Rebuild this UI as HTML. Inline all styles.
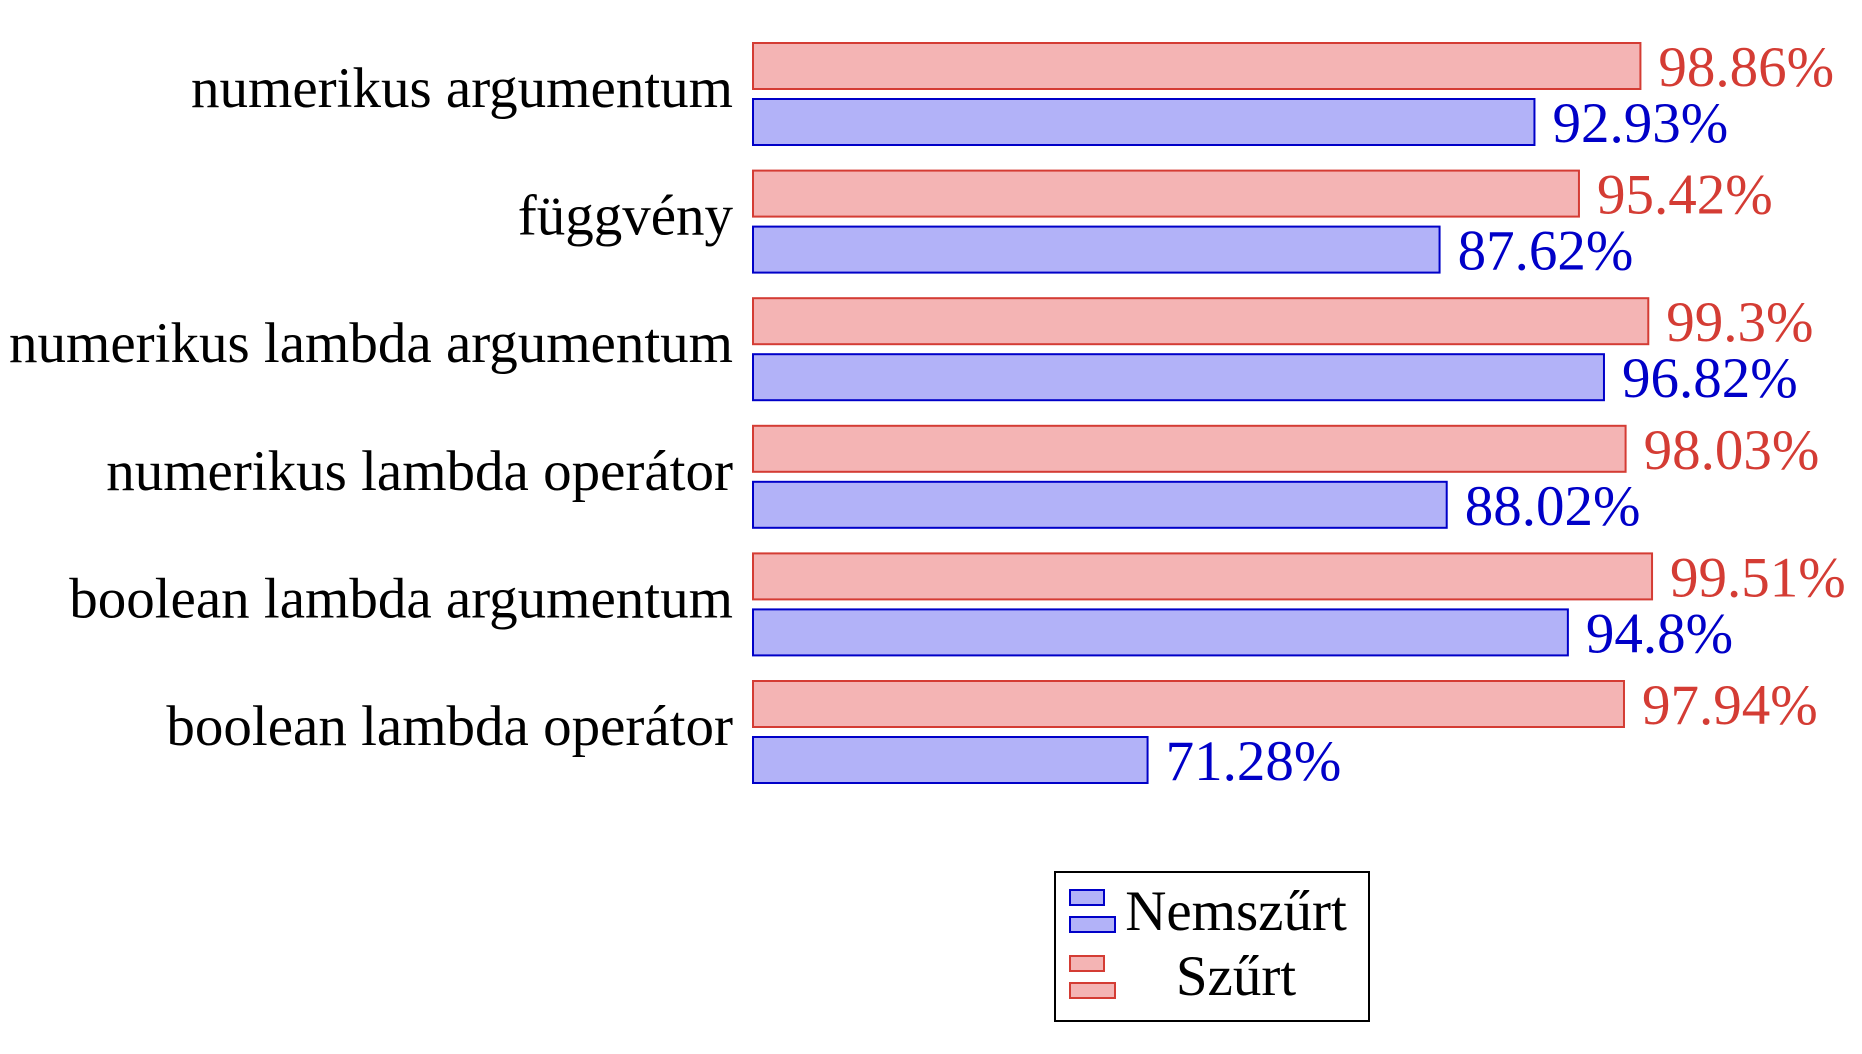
<!DOCTYPE html>
<html><head><meta charset="utf-8"><style>
html,body{margin:0;padding:0;background:#fff;}
svg{display:block;font-family:"Liberation Serif",serif;}
</style></head><body>
<svg id="chart" width="1862" height="1054" viewBox="0 0 1862 1054" xmlns="http://www.w3.org/2000/svg">
<g id="bars"></g>
<g>
<rect x="1055" y="872" width="314" height="149" fill="#fff" stroke="#000" stroke-width="2"/>
<rect x="1070" y="890" width="34" height="15" fill="#b2b2f8" stroke="#0000c8" stroke-width="2"/>
<rect x="1070" y="917" width="45" height="15" fill="#b2b2f8" stroke="#0000c8" stroke-width="2"/>
<text x="1236" y="930" font-size="57" text-anchor="middle" fill="#000">Nemszűrt</text>
<rect x="1070" y="956" width="34" height="15" fill="#f4b4b4" stroke="#d43c34" stroke-width="2"/>
<rect x="1070" y="983" width="45" height="15" fill="#f4b4b4" stroke="#d43c34" stroke-width="2"/>
<text x="1236" y="995" font-size="57" text-anchor="middle" fill="#000">Szűrt</text>
</g>
</svg>
<script>
const categories = ["numerikus argumentum","függvény","numerikus lambda argumentum","numerikus lambda operátor","boolean lambda argumentum","boolean lambda operátor"];
const szurtValues = [98.86, 95.42, 99.3, 98.03, 99.51, 97.94];
const nemszurtValues = [92.93, 87.62, 96.82, 88.02, 94.8, 71.28];
const szurtLabels = ["98.86%","95.42%","99.3%","98.03%","99.51%","97.94%"];
const nemszurtLabels = ["92.93%","87.62%","96.82%","88.02%","94.8%","71.28%"];
const xMin = 49.2;

const NS = "http://www.w3.org/2000/svg";
const g = document.getElementById("bars");
const x0 = 753, pxPer = 17.87;
function xScale(v){ return x0 + (v - xMin) * pxPer; }
function yGroup(i){ return 43 + i * 127.6; }
const barH = 46;
function mk(tag, attrs){ const e = document.createElementNS(NS, tag); for (const k in attrs) e.setAttribute(k, attrs[k]); g.appendChild(e); return e; }

categories.forEach((c, i) => {
  const y = yGroup(i);
  const lab = mk("text", {x: 733, y: y + barH + 18, "font-size": 57, "text-anchor": "end", fill: "#000"});
  lab.textContent = c;
  
  

  const r1 = mk("rect", {x: x0, y: y, width: xScale(szurtValues[i]) - x0, height: barH, fill: "#f4b4b4", stroke: "#d43c34", "stroke-width": 2});
  
  
  const t1 = mk("text", {x: xScale(szurtValues[i]) + 18, y: y + barH - 3, "font-size": 57, fill: "#d43c34"});
  t1.textContent = szurtLabels[i];
  
  

  const y2 = y + 56;
  const r2 = mk("rect", {x: x0, y: y2, width: xScale(nemszurtValues[i]) - x0, height: barH, fill: "#b2b2f8", stroke: "#0000c8", "stroke-width": 2});
  
  
  const t2 = mk("text", {x: xScale(nemszurtValues[i]) + 18, y: y2 + barH - 3, "font-size": 57, fill: "#0000c8"});
  t2.textContent = nemszurtLabels[i];
  
  
});
</script>
</body></html>
